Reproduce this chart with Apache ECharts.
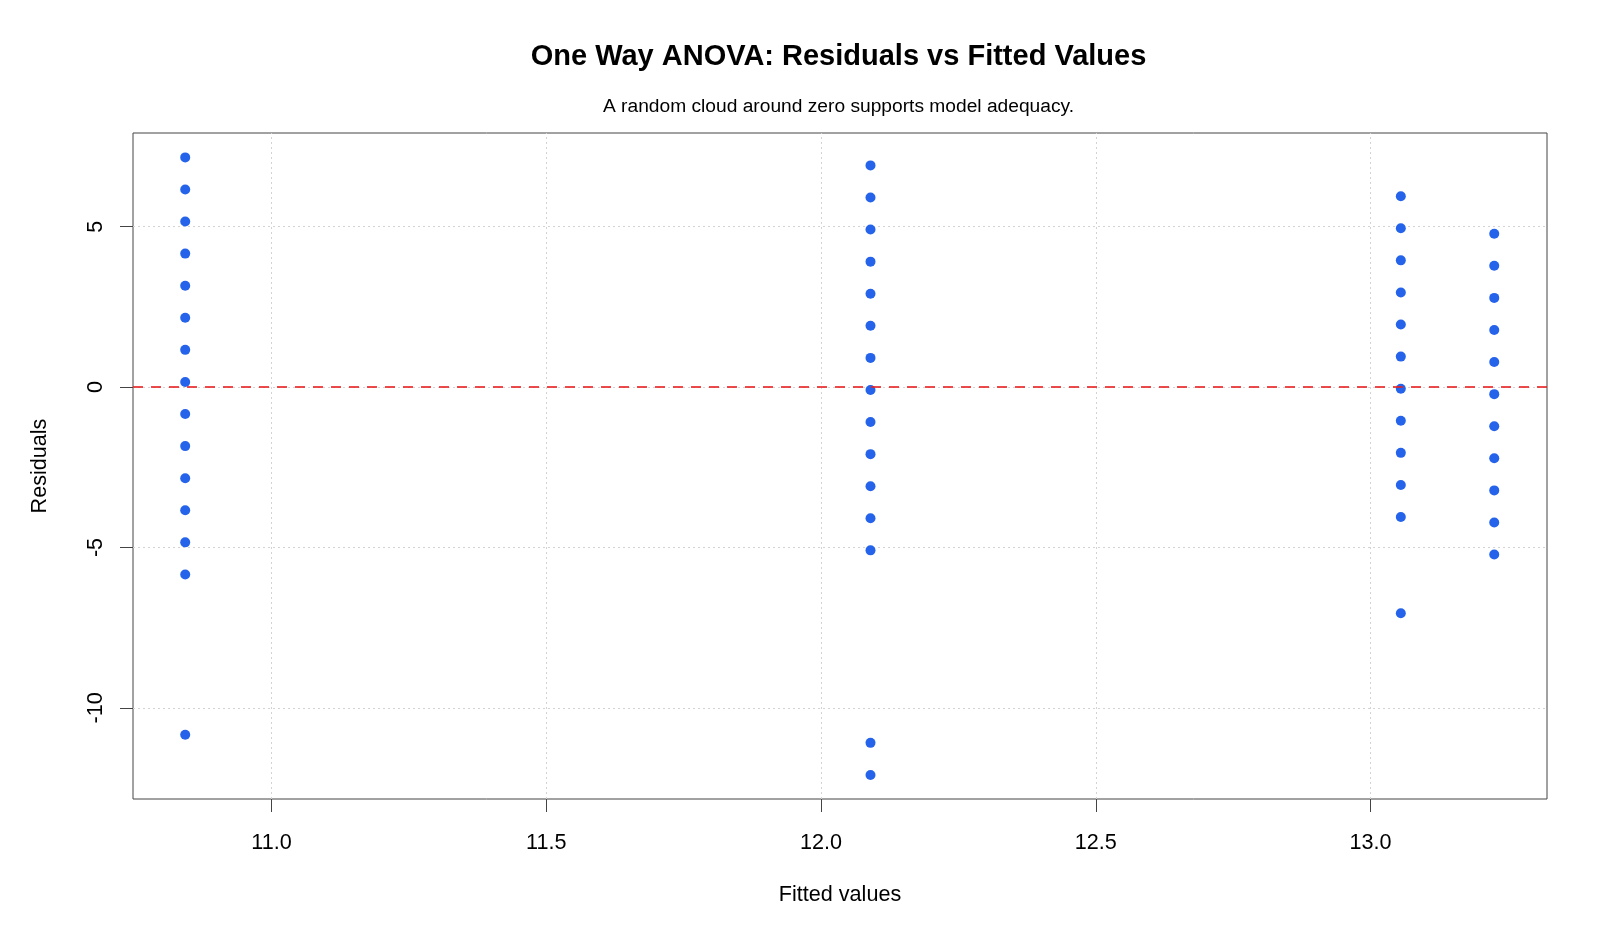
<!DOCTYPE html>
<html><head><meta charset="utf-8">
<script src="https://cdn.jsdelivr.net/npm/echarts@6/dist/echarts.min.js"></script>
<style>html,body{margin:0;padding:0;background:#fff}#c{width:1600px;height:933px}</style>
</head><body><div id="c"></div>
<script>
const titleText = 'One Way ANOVA: Residuals vs Fitted Values';
const subtitleText = 'A random cloud around zero supports model adequacy.';
const xAxisTitle = 'Fitted values';
const yAxisTitle = 'Residuals';

const fittedValues = [10.843, 12.090, 13.055, 13.225];
const residualsGroup1 = [7.16, 6.16, 5.16, 4.16, 3.16, 2.16, 1.16, 0.16, -0.84, -1.84, -2.84, -3.84, -4.84, -5.84, -10.84];
const residualsGroup2 = [6.91, 5.91, 4.91, 3.91, 2.91, 1.91, 0.91, -0.09, -1.09, -2.09, -3.09, -4.09, -5.09, -11.09, -12.09];
const residualsGroup3 = [5.95, 4.95, 3.95, 2.95, 1.95, 0.95, -0.05, -1.05, -2.05, -3.05, -4.05, -7.05];
const residualsGroup4 = [4.78, 3.78, 2.78, 1.78, 0.78, -0.22, -1.22, -2.22, -3.22, -4.22, -5.22];

const xTicks = [11.0, 11.5, 12.0, 12.5, 13.0];
const yTicks = [-10, -5, 0, 5];
const xRange = [10.748, 13.321];
const yRange = [-12.84, 7.92];
const refLineY = 0;

const groups = [residualsGroup1, residualsGroup2, residualsGroup3, residualsGroup4];
const points = [];
groups.forEach((g, i) => g.forEach(r => points.push([fittedValues[i], r])));

const FONT = "'Liberation Sans', Arial, sans-serif";
const chart = echarts.init(document.getElementById('c'), null, {renderer: 'canvas'});
chart.setOption({
  animation: false,
  backgroundColor: '#ffffff',
  title: [
    {text: titleText, left: 833.5, top: 37, textAlign: 'center',
     textStyle: {fontFamily: FONT, fontSize: 29, fontWeight: 'bold', color: '#000', lineHeight: 30}},
    {text: subtitleText, left: 833.5, top: 92, textAlign: 'center',
     textStyle: {fontFamily: FONT, fontSize: 19.2, fontWeight: 'normal', color: '#000', lineHeight: 20}}
  ],
  grid: {left: 133, right: 53, top: 133, bottom: 134, show: true, borderColor: '#444', borderWidth: 1, backgroundColor: 'transparent'},
  xAxis: {
    type: 'value', min: xRange[0], max: xRange[1],
    name: xAxisTitle, nameLocation: 'middle', nameGap: 85,
    nameTextStyle: {fontFamily: FONT, fontSize: 21.6, color: '#000', lineHeight: 22},
    axisLine: {show: false, onZero: false},
    axisTick: {show: true, length: 13, customValues: xTicks, lineStyle: {color: '#444', width: 1}},
    axisLabel: {customValues: xTicks, margin: 33, fontFamily: FONT, fontSize: 21.6, color: '#000', lineHeight: 22,
                formatter: v => Number(v).toFixed(1)},
    splitLine: {show: false}
  },
  yAxis: {
    type: 'value', min: yRange[0], max: yRange[1],
    name: yAxisTitle, nameLocation: 'middle', nameGap: 82,
    nameTextStyle: {fontFamily: FONT, fontSize: 21.6, color: '#000', lineHeight: 22},
    axisLine: {show: false, onZero: false},
    axisTick: {show: true, length: 13, customValues: yTicks, lineStyle: {color: '#444', width: 1}},
    axisLabel: {customValues: yTicks, margin: 26, rotate: 90, fontFamily: FONT, fontSize: 21.6, color: '#000', lineHeight: 22,
                formatter: v => String(v)},
    splitLine: {show: false}
  },
  series: [
    {
      type: 'scatter', data: [], z: 1, silent: true,
      markLine: {
        silent: true, z: 1, symbol: 'none', label: {show: false},
        lineStyle: {color: '#d3d3d3', width: 1, type: [2, 3]},
        data: xTicks.map(v => ({xAxis: v})).concat(yTicks.map(v => ({yAxis: v})))
      }
    },
    {
      type: 'scatter', data: points, z: 2, symbol: 'circle', symbolSize: 10,
      itemStyle: {color: '#2563EB', opacity: 1}
    },
    {
      type: 'scatter', data: [], z: 3, silent: true,
      markLine: {
        silent: true, z: 6, symbol: 'none', label: {show: false},
        lineStyle: {color: 'rgba(232,30,30,0.8)', width: 2, type: [10, 8]},
        data: [{yAxis: refLineY}]
      }
    }
  ]
});
</script>
</body></html>
